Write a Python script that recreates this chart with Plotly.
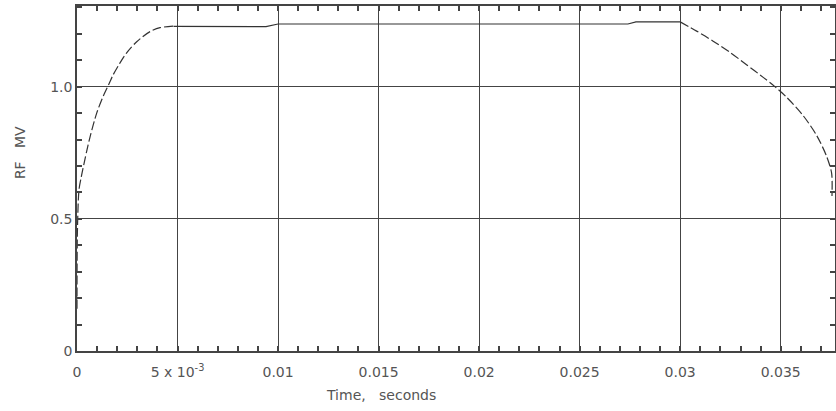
import plotly.graph_objects as go

# Rising edge (dashed)
t_rise = [0.0, 0.00002, 0.0001, 0.00023, 0.00048, 0.00065, 0.00098, 0.00131,
          0.0016, 0.0018, 0.00214, 0.00247, 0.00297, 0.00363, 0.00413, 0.0048]
v_rise = [0.16, 0.45, 0.61, 0.665, 0.755, 0.81, 0.90, 0.965,
          1.012, 1.045, 1.09, 1.128, 1.17, 1.208, 1.223, 1.229]

# Flat top (solid)
t_flat = [0.0048, 0.0094, 0.0100, 0.0274, 0.0278, 0.0300]
v_flat = [1.228, 1.227, 1.237, 1.237, 1.245, 1.245]

# Falling edge (dashed)
t_fall = [0.0300, 0.03082, 0.03164, 0.03247, 0.0333, 0.03413, 0.03471,
          0.03529, 0.03612, 0.03679, 0.03728, 0.03753, 0.03755]
v_fall = [1.245, 1.210, 1.172, 1.130, 1.083, 1.035, 1.000,
          0.960, 0.890, 0.815, 0.737, 0.674, 0.586]

x_tickvals = [0, 0.005, 0.01, 0.015, 0.02, 0.025, 0.03, 0.035]
x_ticktext = ["0", "5 x 10<sup>-3</sup>", "0.01", "0.015", "0.02", "0.025", "0.03", "0.035"]
y_tickvals = [0, 0.5, 1.0]
y_ticktext = ["0", "0.5", "1.0"]
x_minor = [i / 1000 for i in range(0, 38)]
y_minor = [i / 10 for i in range(0, 14)]

X_RANGE = [0, 0.0377]
Y_RANGE = [0, 1.305]

LINE = "#333333"
AX = "#444444"
FONT = dict(family="DejaVu Sans", size=14, color="#555555")

fig = go.Figure()
fig.add_trace(go.Scatter(x=t_rise, y=v_rise, mode="lines",
                         line=dict(color=LINE, width=1.2, dash="9px,3px", shape="spline", smoothing=0.8)))
fig.add_trace(go.Scatter(x=t_flat, y=v_flat, mode="lines",
                         line=dict(color=LINE, width=1.2)))
fig.add_trace(go.Scatter(x=t_fall, y=v_fall, mode="lines",
                         line=dict(color=LINE, width=1.2, dash="9px,3px", shape="spline", smoothing=0.8)))
# empty trace so the mirrored (top/right) axes are drawn
fig.add_trace(go.Scatter(x=[], y=[], xaxis="x2", yaxis="y2", hoverinfo="skip"))

common = dict(showline=True, linecolor=AX, linewidth=1.5, ticks="inside", ticklen=5,
              tickcolor=AX, tickwidth=1.3, zeroline=False, tickfont=FONT)

fig.update_layout(
    width=836, height=411,
    margin=dict(l=77, r=1, t=6, b=60),
    paper_bgcolor="white", plot_bgcolor="white",
    showlegend=False,
    font=FONT,
    xaxis=dict(range=X_RANGE, tickvals=x_tickvals, ticktext=x_ticktext,
               showgrid=True, gridcolor="#444444", gridwidth=1.3,
               ticklabelstandoff=7,
               minor=dict(tickmode="array", tickvals=x_minor, ticks="inside",
                          ticklen=5, tickcolor=AX, tickwidth=1.5, showgrid=False),
               **common),
    yaxis=dict(range=Y_RANGE, tickvals=y_tickvals, ticktext=y_ticktext,
               showgrid=True, gridcolor="#444444", gridwidth=1.3,
               minor=dict(tickmode="array", tickvals=y_minor, ticks="inside",
                          ticklen=5, tickcolor=AX, tickwidth=1.5, showgrid=False),
               **common),
    xaxis2=dict(range=X_RANGE, overlaying="x", side="top", anchor="y2",
                tickvals=x_tickvals, showticklabels=False, showgrid=False,
                minor=dict(tickmode="array", tickvals=x_minor, ticks="inside",
                           ticklen=5, tickcolor=AX, tickwidth=1.5, showgrid=False),
                **common),
    yaxis2=dict(range=Y_RANGE, overlaying="y", side="right", anchor="x2",
                tickvals=y_tickvals, showticklabels=False, showgrid=False,
                minor=dict(tickmode="array", tickvals=y_minor, ticks="inside",
                           ticklen=5, tickcolor=AX, tickwidth=1.5, showgrid=False),
                **common),
    annotations=[
        dict(text="Time,   seconds", xref="paper", yref="paper", x=0.401, y=-0.128,
             xanchor="center", yanchor="middle", showarrow=False, font=FONT),
        dict(text="RF   MV", xref="paper", yref="paper", x=-0.075, y=0.574,
             xanchor="center", yanchor="middle", showarrow=False, textangle=-90, font=FONT),
    ],
)

fig.write_html("out.html")
